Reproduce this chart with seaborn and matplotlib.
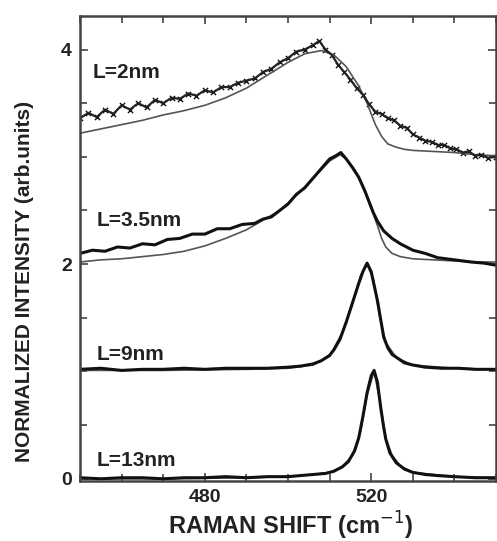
import matplotlib
matplotlib.use("Agg")
import matplotlib.pyplot as plt
import seaborn as sns
import numpy as np
from matplotlib.ticker import MultipleLocator, FixedLocator

sns.set_theme(style="white")
plt.rcParams['font.family'] = ['Liberation Sans', 'DejaVu Sans']

# ---- data ----
labels = ["L=2nm", "L=3.5nm", "L=9nm", "L=13nm"]
label_x = [453, 454, 454, 454]
label_y = [3.73, 2.36, 1.11, 0.115]

# L = 2 nm
x2_data = [450, 452, 454, 456, 458, 460, 462, 464, 466, 468, 470, 472, 474, 476, 478,
           480, 482, 484, 486, 488, 490, 492, 494, 496, 498, 500, 502, 504, 506, 507.5,
           509, 510.5, 512, 513.5, 515, 516.5, 518, 519.5, 521, 522.5, 524, 525.5, 527,
           528.5, 530, 531.5, 533, 534.5, 536, 537.5, 539, 540.5, 542, 543.5, 545, 546.5,
           548, 550]
y2_data = [3.36, 3.41, 3.37, 3.44, 3.40, 3.48, 3.44, 3.50, 3.46, 3.53, 3.50, 3.55, 3.54, 3.59, 3.57,
           3.62, 3.60, 3.65, 3.65, 3.69, 3.71, 3.73, 3.79, 3.82, 3.88, 3.92, 3.98, 4.00, 4.04, 4.08,
           4.00, 3.95, 3.86, 3.79, 3.72, 3.64, 3.58, 3.49, 3.42, 3.40, 3.36, 3.34, 3.29,
           3.27, 3.21, 3.18, 3.15, 3.14, 3.11, 3.11, 3.08, 3.07, 3.04, 3.05, 3.01, 3.02,
           2.99, 3.00]
x2_fit = [450, 455, 460, 465, 470, 475, 480, 485, 490, 495, 500, 504, 508, 511, 514,
          517, 519, 521, 522.5, 524, 526, 528, 530, 535, 540, 545, 550]
y2_fit = [3.22, 3.26, 3.30, 3.34, 3.39, 3.43, 3.48, 3.55, 3.64, 3.76, 3.88, 3.96, 3.99, 3.95, 3.84,
          3.66, 3.50, 3.30, 3.19, 3.12, 3.09, 3.07, 3.06, 3.05, 3.04, 3.02, 3.01]

# L = 3.5 nm
x35_data = [450, 453, 456, 459, 462, 465, 468, 471, 474, 477, 480, 483, 486, 489, 492, 494,
            496, 498, 500, 502, 504, 506, 508, 510, 511.5, 512.7, 514, 515.5, 517, 518.5,
            519.5, 520.5, 521.5, 523, 525, 527, 530, 533, 536, 540, 544, 547, 550]
y35_data = [2.10, 2.13, 2.12, 2.16, 2.15, 2.19, 2.18, 2.23, 2.24, 2.28, 2.28, 2.33, 2.33, 2.37, 2.38, 2.42,
            2.44, 2.50, 2.56, 2.65, 2.71, 2.80, 2.89, 2.98, 3.01, 3.04, 2.98, 2.90, 2.81, 2.68,
            2.58, 2.48, 2.40, 2.31, 2.24, 2.19, 2.13, 2.10, 2.06, 2.04, 2.02, 2.01, 1.99]
x35_fit = [450, 455, 460, 465, 470, 475, 480, 485, 490, 494, 498, 502, 506, 510, 512.5, 514,
           516, 518, 520, 521.5, 522.5, 523.5, 525, 527, 530, 535, 540, 545, 550]
y35_fit = [2.02, 2.04, 2.05, 2.07, 2.09, 2.12, 2.17, 2.24, 2.32, 2.41, 2.50, 2.64, 2.80, 2.96, 3.02, 2.98,
           2.88, 2.72, 2.52, 2.36, 2.24, 2.16, 2.10, 2.07, 2.05, 2.04, 2.03, 2.02, 2.02]

# L = 9 nm
x9_data = [450, 455, 460, 465, 470, 475, 480, 485, 490, 495, 500, 503, 506, 508, 510, 511,
           512.5, 514, 515.5, 517, 518, 519, 520, 521, 521.5, 522.3, 523, 524, 525, 526.5,
           528, 530, 533, 537, 541, 545, 550]
y9_data = [1.02, 1.03, 1.01, 1.02, 1.02, 1.03, 1.02, 1.03, 1.03, 1.03, 1.04, 1.05, 1.07, 1.10, 1.15, 1.20,
           1.30, 1.46, 1.64, 1.82, 1.93, 2.01, 1.93, 1.75, 1.66, 1.48, 1.32, 1.22, 1.16, 1.12,
           1.08, 1.06, 1.04, 1.03, 1.03, 1.02, 1.02]
x9_fit = [450, 470, 490, 500, 506, 510, 513, 515.5, 517.5, 519, 520.5, 522, 523.5, 526, 530, 540, 550]
y9_fit = [1.01, 1.01, 1.02, 1.03, 1.06, 1.14, 1.36, 1.64, 1.90, 2.00, 1.86, 1.52, 1.27, 1.13, 1.06, 1.03, 1.02]

# L = 13 nm
x13_data = [450, 455, 460, 465, 470, 475, 480, 485, 490, 495, 500, 503, 506, 509, 511, 513,
            514.5, 516, 517, 518, 519, 520, 520.7, 521.5, 522.3, 523, 523.5, 524.5, 526, 528,
            530, 533, 536, 540, 545, 550]
y13_data = [0.01, 0.00, 0.01, 0.01, 0.00, 0.01, 0.01, 0.02, 0.01, 0.02, 0.02, 0.03, 0.04, 0.05, 0.07, 0.11,
            0.16, 0.26, 0.38, 0.58, 0.80, 0.96, 1.01, 0.90, 0.66, 0.48, 0.37, 0.24, 0.15, 0.09,
            0.06, 0.04, 0.03, 0.02, 0.01, 0.01]
x13_fit = [450, 470, 490, 500, 506, 510, 513, 515.5, 517.5, 519, 520.7, 522, 523.5, 525, 527, 530, 540, 550]
y13_fit = [0.00, 0.00, 0.01, 0.02, 0.04, 0.06, 0.11, 0.22, 0.45, 0.78, 1.00, 0.74, 0.38, 0.22, 0.12, 0.06, 0.02, 0.01]

# ---- figure ----
fig = plt.figure(figsize=(4.97, 5.41), dpi=100)
ax = fig.add_axes([0.161, 0.111, 0.837, 0.859])

fit_kw = dict(color="#555555", linewidth=1.2, estimator=None, sort=False, ax=ax)
data_kw = dict(color="#111111", linewidth=2.2, estimator=None, sort=False, ax=ax)

for xf, yf in [(x2_fit, y2_fit), (x35_fit, y35_fit), (x9_fit, y9_fit), (x13_fit, y13_fit)]:
    sns.lineplot(x=xf, y=yf, **fit_kw)

sns.lineplot(x=x2_data, y=y2_data, color="#222222", linewidth=1.6, estimator=None, sort=False, ax=ax)
sns.scatterplot(x=x2_data, y=y2_data, marker="x", s=14, color="#111111", linewidth=1.0, ax=ax)
for xd, yd in [(x35_data, y35_data), (x9_data, y9_data), (x13_data, y13_data)]:
    sns.lineplot(x=xd, y=yd, **data_kw)

for lab, lx, ly in zip(labels, label_x, label_y):
    ax.text(lx, ly, lab, fontsize=15, fontweight="bold", color="#222222",
            ha="left", va="baseline")

ax.set_xlim(450, 550)
ax.set_ylim(-0.02, 4.31)
ax.xaxis.set_major_locator(FixedLocator([480, 520]))
ax.xaxis.set_minor_locator(MultipleLocator(10))
ax.yaxis.set_major_locator(FixedLocator([0, 2, 4]))
ax.yaxis.set_minor_locator(MultipleLocator(0.5))
ax.tick_params(which="both", direction="in", top=True, right=True, bottom=True, left=True,
               color="#444444", width=1.2)
ax.tick_params(which="major", length=6, labelsize=14, pad=6)
ax.tick_params(which="minor", length=5)
ax.set_xticklabels(["480", "520"])
ax.set_yticklabels(["0", "2", "4"])
for t in ax.get_xticklabels() + ax.get_yticklabels():
    t.set_fontweight("bold")
    t.set_color("#222222")

for sp in ax.spines.values():
    sp.set_visible(True)
    sp.set_color("#444444")
    sp.set_linewidth(1.8)

ax.set_xlabel("")
ax.set_ylabel("")
fig.text(0.585, 0.028, "RAMAN SHIFT (cm$^{-1}$)", fontsize=17, fontweight="bold",
         ha="center", va="center", color="#222222")
fig.text(0.05, 0.479, "NORMALIZED INTENSITY (arb.units)", fontsize=15, fontweight="bold",
         rotation=90, ha="center", va="center", color="#222222")

fig.savefig("out.png", dpi=100, facecolor="white")
